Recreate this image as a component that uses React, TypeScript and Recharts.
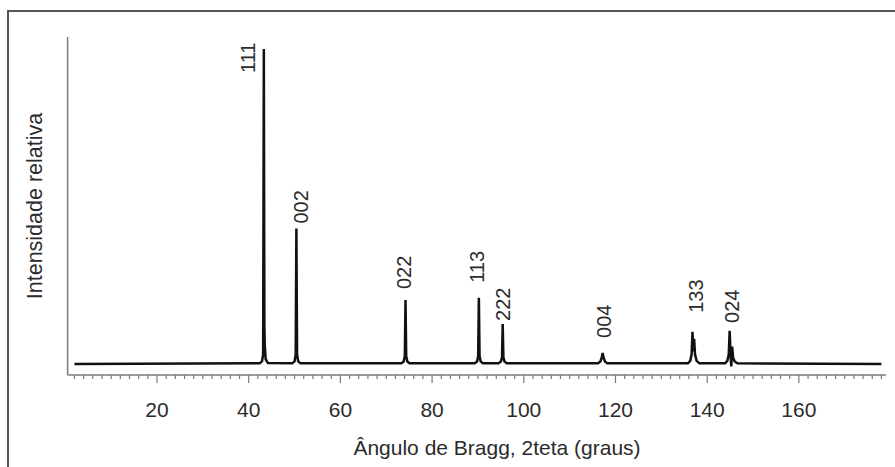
import { LineChart, Line, XAxis, YAxis, ReferenceDot } from "recharts";

// difratograma (angulo 2teta, intensidade relativa)
const profile: [number, number][] = [
  [2, 0],
  [42.4, 0.2], [42.9, 0.8], [43.15, 3], [43.3, 100], [43.42, 12], [43.5, 6], [43.7, 1.5], [44.2, 0.3],
  [49.5, 0.2], [50.0, 0.8], [50.25, 3], [50.4, 43], [50.55, 3], [50.8, 0.8], [51.3, 0.2],
  [73.3, 0.2], [73.8, 0.8], [74.05, 2.5], [74.2, 20.3], [74.35, 2.5], [74.6, 0.8], [75.1, 0.2],
  [89.3, 0.2], [89.8, 0.8], [90.05, 2.5], [90.2, 21], [90.35, 2.5], [90.6, 0.8], [91.1, 0.2],
  [94.5, 0.2], [95.0, 0.8], [95.25, 2], [95.4, 12.7], [95.55, 2], [95.8, 0.8], [96.3, 0.2],
  [116.2, 0.2], [116.7, 0.8], [117.0, 2], [117.2, 3.5], [117.4, 2], [117.7, 0.8], [118.2, 0.2],
  [135.8, 0.2], [136.3, 1], [136.6, 3], [136.8, 10.2], [136.95, 4], [137.15, 8], [137.35, 3], [137.7, 1], [138.3, 0.2],
  [143.9, 0.2], [144.4, 1], [144.7, 3], [144.9, 10.5], [145.1, 3], [145.25, -0.8], [145.45, 5.5], [145.65, 2], [146.0, 0.8], [146.6, 0.2],
  [178, 0],
];

const peakHkl = ["111", "002", "022", "113", "222", "004", "133", "024"];
const peakAngle = [43.3, 50.4, 74.2, 90.2, 95.4, 117.2, 136.8, 144.9];
const peakHeight = [100, 43, 20.3, 21, 12.7, 3.5, 10.2, 10.5];

const majorTicks = [20, 40, 60, 80, 100, 120, 140, 160];
const minorTicks = Array.from({ length: 89 }, (_, i) => 2 + 2 * i);

const data = profile.map(([angle, intensity]) => ({ angle, intensity }));

// deslocamento (px) de cada rotulo em relacao ao topo do pico
const labelNudge: [number, number][] = [
  [-9, 24], [12, -5], [6, -11], [5, -15], [7, -3], [8, -15], [10, -19], [9, -8],
];

const FONT = "'Liberation Sans', Arial, sans-serif";
const TEXT = "#2b2b2b";
const AXIS = "#7a7a7a";

const AngleTick = ({ x, y, payload }: any) => {
  const major = majorTicks.includes(payload.value);
  return (
    <g>
      <line x1={x} x2={x} y1={y} y2={y + (major ? 8 : 4)} stroke={AXIS} strokeWidth={1.2} />
      {major && (
        <text x={x} y={y + 42} textAnchor="middle" fontFamily={FONT} fontSize={21} fill={TEXT}>
          {payload.value}
        </text>
      )}
    </g>
  );
};

const PeakLabel = ({ cx, cy, text, nudge }: any) => {
  const x = cx + nudge[0];
  const y = cy + nudge[1];
  return (
    <text x={x} y={y} transform={`rotate(-90, ${x}, ${y})`} fontFamily={FONT} fontSize={20} fill={TEXT}>
      {text}
    </text>
  );
};

export default function App() {
  return (
    <div style={{ position: "relative", width: 895, height: 467, overflow: "hidden", background: "#fff" }}>
      <style>{`body{margin:0;overflow:hidden}`}</style>
      <div
        style={{
          position: "absolute",
          left: 7,
          top: 10,
          width: 920,
          height: 490,
          borderTop: "2px solid #555",
          borderLeft: "2px solid #555",
        }}
      />
      <div style={{ position: "absolute", left: 0, top: 0 }}>
        <LineChart width={895} height={467} data={data} margin={{ top: 37, right: 9, bottom: 0, left: 66.6 }}>
          <XAxis
            dataKey="angle"
            type="number"
            domain={[0.5, 179]}
            allowDataOverflow
            ticks={minorTicks}
            interval={0}
            tick={<AngleTick />}
            tickLine={false}
            tickSize={0}
            tickMargin={0}
            height={92}
            axisLine={{ stroke: AXIS, strokeWidth: 1.5 }}
            label={{
              content: () => (
                <text x={497} y={455} textAnchor="middle" fontFamily={FONT} fontSize={21} fill={TEXT}>
                  Ângulo de Bragg, 2teta (graus)
                </text>
              ),
            }}
          />
          <YAxis
            type="number"
            domain={[-3.5, 103.8]}
            allowDataOverflow
            tick={false}
            tickLine={false}
            width={1}
            axisLine={{ stroke: AXIS, strokeWidth: 1.5 }}
            label={{
              content: () => (
                <text
                  x={42}
                  y={206}
                  transform="rotate(-90, 42, 206)"
                  textAnchor="middle"
                  fontFamily={FONT}
                  fontSize={21.5}
                  fill={TEXT}
                >
                  Intensidade relativa
                </text>
              ),
            }}
          />
          <Line
            type="linear"
            dataKey="intensity"
            stroke="#111"
            strokeWidth={2.5}
            dot={false}
            activeDot={false}
            isAnimationActive={false}
          />
          {peakHkl.map((hkl, i) => (
            <ReferenceDot
              key={hkl}
              x={peakAngle[i]}
              y={peakHeight[i]}
              r={1}
              fill="none"
              stroke="none"
              ifOverflow="visible"
              shape={(p: any) => <PeakLabel cx={p.cx} cy={p.cy} text={hkl} nudge={labelNudge[i]} />}
            />
          ))}
        </LineChart>
      </div>
    </div>
  );
}
